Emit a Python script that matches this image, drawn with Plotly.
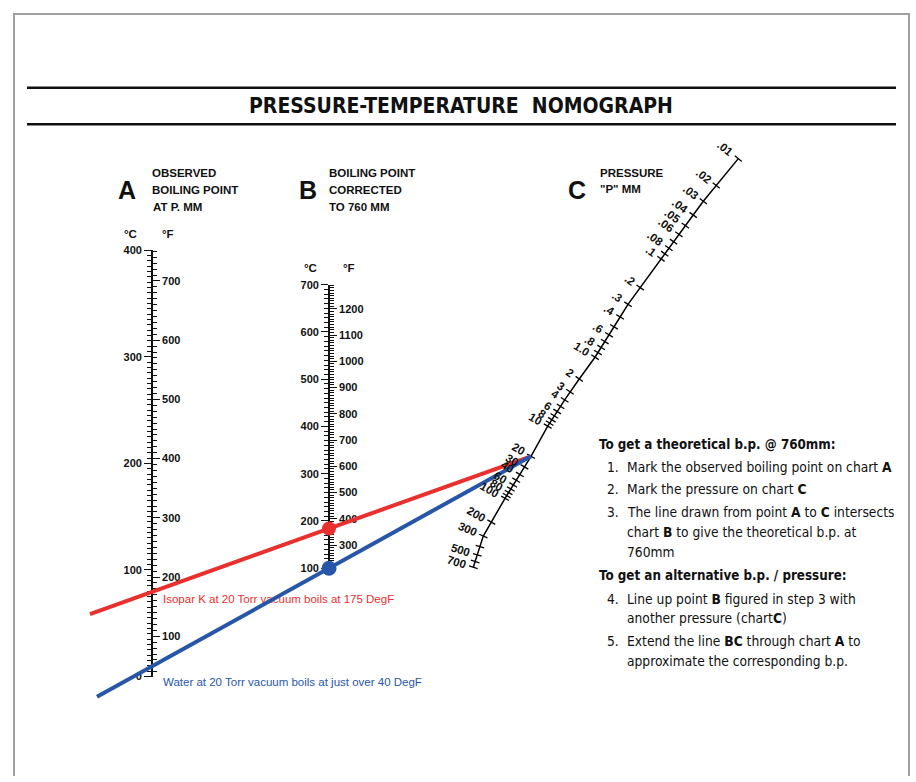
import numpy as np
import plotly.graph_objects as go

W, H = 916, 782

# ---------------- data ----------------
A_degC_ticks = [0, 100, 200, 300, 400]
A_degF_ticks = [100, 200, 300, 400, 500, 600, 700]
B_degC_ticks = [100, 200, 300, 400, 500, 600, 700]
B_degF_ticks = [300, 400, 500, 600, 700, 800, 900, 1000, 1100, 1200]
C_pressure_ticks = [0.01, 0.02, 0.03, 0.04, 0.05, 0.06, 0.07, 0.08, 0.09,
                    0.1, 0.2, 0.3, 0.4, 0.5, 0.6, 0.7, 0.8, 0.9,
                    1, 2, 3, 4, 5, 6, 7, 8, 9,
                    10, 20, 30, 40, 50, 60, 70, 80, 90,
                    100, 200, 300, 400, 500, 600, 700]
C_label_values = [0.01, 0.02, 0.03, 0.04, 0.05, 0.06, 0.08, 0.1, 0.2, 0.3, 0.4,
                  0.6, 0.8, 1, 2, 3, 4, 6, 8, 10, 20, 30, 40, 60, 80, 100,
                  200, 300, 500, 700]
C_label_texts = [".01", ".02", ".03", ".04", ".05", ".06", ".08", ".1", ".2", ".3",
                 ".4", ".6", ".8", "1.0", "2", "3", "4", "6", "8", "10", "20", "30",
                 "40", "60", "80", "100", "200", "300", "500", "700"]

isopar_observed_degF = 175      # on chart A
water_corrected_degC = 100      # on chart B
vacuum_torr = 20                # on chart C

instr_heading1 = "To get a theoretical b.p. @ 760mm:"
instr_heading2 = "To get an alternative b.p. / pressure:"
instr_items1 = [("1.", ["Mark the observed boiling point on chart <b>A</b>"]),
                ("2.", ["Mark the pressure on chart <b>C</b>"]),
                ("3.", ["The line drawn from point <b>A</b> to <b>C</b> intersects",
                        "chart <b>B</b> to give the theoretical b.p. at",
                        "760mm"])]
instr_items2 = [("4.", ["Line up point <b>B</b> figured in step 3 with",
                        "another pressure (chart<b>C</b>)"]),
                ("5.", ["Extend the line <b>BC</b> through chart <b>A</b> to",
                        "approximate the corresponding b.p."])]

# ---------------- geometry (layout) ----------------
A_X, A_TOP, A_BOT, A_RANGE = 152, 248, 681, (0, 400)
B_X, B_TOP, B_BOT, B_RANGE = 329, 283, 571, (100, 700)
# calibration of the curved pressure scale C (pixel positions of reference graduations)
C_CAL_P = [0.01, 0.03, 0.1, 0.3, 1, 3, 10, 20, 100, 300, 700]
C_CAL_X = [738.3, 703.3, 661.0, 628.0, 595.0, 570.0, 547.7, 531.0, 505.0, 483.3, 473.3]
C_CAL_Y = [155.0, 198.3, 256.7, 303.0, 356.7, 391.7, 426.7, 457.3, 500.0, 538.3, 570.0]
C_CAL_LOG = np.log10(C_CAL_P)

RED, BLUE = "#e8302f", "#2756a8"
BOLD = "Liberation Sans, Arial, sans-serif"
NARROW = "DejaVu Sans Condensed, Liberation Sans Narrow, sans-serif"


def f2c(f):
    return (f - 32) / 1.8


def c2f(c):
    return c * 1.8 + 32


def dom(top, bot):
    return [1 - bot / H, 1 - top / H]


def a_px(c):
    return A_BOT + (A_TOP - A_BOT) * (c - A_RANGE[0]) / (A_RANGE[1] - A_RANGE[0])


def b_px(c):
    return B_BOT + (B_TOP - B_BOT) * (c - B_RANGE[0]) / (B_RANGE[1] - B_RANGE[0])


def c_xy(p):
    lp = np.log10(p)
    return float(np.interp(lp, C_CAL_LOG, C_CAL_X)), float(np.interp(lp, C_CAL_LOG, C_CAL_Y))


def c_dir(p):
    x1, y1 = c_xy(p / 1.03)
    x2, y2 = c_xy(p * 1.03)
    d = np.array([x2 - x1, y2 - y1])
    return d / np.linalg.norm(d)


fig = go.Figure()

# dummy traces so the scale axes exist
for ya in ["y", "y2", "y3", "y4"]:
    fig.add_trace(go.Scatter(x=[None], y=[None], xaxis="x", yaxis=ya,
                             showlegend=False, hoverinfo="skip"))

PX = dict(xaxis="x", yaxis="y5", showlegend=False, hoverinfo="skip")

# ---- pressure scale C ----
cline = [c_xy(p) for p in C_pressure_ticks]
fig.add_trace(go.Scatter(x=[q[0] for q in cline], y=[q[1] for q in cline], mode="lines",
                         line=dict(color="black", width=1.5), **PX))
tx, ty = [], []
for p in C_pressure_ticks:
    x0, y0 = c_xy(p)
    d = c_dir(p)
    n = np.array([-d[1], d[0]])
    L = 4.5
    tx += [x0 - n[0] * L, x0 + n[0] * L, None]
    ty += [y0 - n[1] * L, y0 + n[1] * L, None]
fig.add_trace(go.Scatter(x=tx, y=ty, mode="lines", line=dict(color="black", width=1.3), **PX))

annotations = []
CS = 11.5
CW = {".": 0.28 * CS}
for p, t in zip(C_label_values, C_label_texts):
    x0, y0 = c_xy(p)
    d = c_dir(p)
    n = np.array([-d[1], d[0]])          # towards upper-left
    ang = float(np.degrees(np.arctan2(-d[0], d[1])))
    wdt = sum(CW.get(ch, 0.556 * CS) for ch in t)
    off = 8 + wdt / 2
    annotations.append(dict(x=x0 + n[0] * off, y=y0 + n[1] * off, xref="x", yref="y5",
                            text=t, showarrow=False, textangle=ang,
                            xanchor="center", yanchor="middle",
                            font=dict(family=BOLD, size=CS, color="#111", weight="bold")))

# ---- example texts (under lines) ----
fig.add_trace(go.Scatter(x=[163], y=[603], mode="text",
                         text=["Isopar K at 20 Torr vacuum boils at 175 DegF"],
                         textposition="middle right",
                         textfont=dict(family="Liberation Sans, Arial", size=11.5, color=RED), **PX))
fig.add_trace(go.Scatter(x=[163], y=[688], mode="text",
                         text=["Water at 20 Torr vacuum boils at just over 40 DegF"],
                         textposition="middle right",
                         textfont=dict(family="Liberation Sans, Arial", size=11.5, color=BLUE), **PX))

# ---- red line: A (observed) -> C (pressure), crossing B ----
pa = (A_X, a_px(f2c(isopar_observed_degF)))
pc = c_xy(vacuum_torr)
slope_r = (pc[1] - pa[1]) / (pc[0] - pa[0])
red_left_x = 90
red_x = [red_left_x, pc[0]]
red_y = [pa[1] + slope_r * (red_left_x - pa[0]), pc[1]]
red_b_y = pa[1] + slope_r * (B_X - pa[0])
fig.add_trace(go.Scatter(x=red_x, y=red_y, mode="lines", line=dict(color=RED, width=4), **PX))

# ---- blue line: B (corrected) -> C (pressure), extended through A ----
pb = (B_X, b_px(water_corrected_degC))
slope_b = (pc[1] - pb[1]) / (pc[0] - pb[0])
blue_left_x = 97
blue_x = [blue_left_x, pc[0]]
blue_y = [pb[1] + slope_b * (blue_left_x - pb[0]), pc[1]]
fig.add_trace(go.Scatter(x=blue_x, y=blue_y, mode="lines", line=dict(color=BLUE, width=4), **PX))

fig.add_trace(go.Scatter(x=[B_X], y=[red_b_y], mode="markers",
                         marker=dict(color=RED, size=14), **PX))
fig.add_trace(go.Scatter(x=[B_X], y=[pb[1]], mode="markers",
                         marker=dict(color=BLUE, size=15), **PX))

# ---- header texts ----
def txt(x, y, s, size=11.5, family=BOLD, weight="bold", xanchor="left", color="#111"):
    annotations.append(dict(x=x, y=y, xref="x", yref="y5", text=s, showarrow=False,
                            xanchor=xanchor, yanchor="middle",
                            font=dict(family=family, size=size, color=color, weight=weight)))

txt(461, 102, "PRESSURE-TEMPERATURE  NOMOGRAPH", size=21, family=NARROW, xanchor="center")
txt(116, 187, "A", size=25)
txt(150, 170, "OBSERVED")
txt(150, 187, "BOILING POINT")
txt(151, 204, "AT P. MM")
txt(297, 187, "B", size=25)
txt(327, 170, "BOILING POINT")
txt(327, 187, "CORRECTED")
txt(327, 204, "TO 760 MM")
txt(566, 187, "C", size=25)
txt(598, 170, "PRESSURE")
txt(598, 186, "\"P\" MM")
txt(122, 232, "°C")
txt(160, 232, "°F")
txt(302, 266, "°C")
txt(341, 266, "°F")

# ---- instructions ----
HS, IS = 13.3, 13.7
txt(597, 445, instr_heading1, size=HS, family=NARROW)
yy = 468
for num, lines in instr_items1:
    txt(605, yy, num, size=IS, family=NARROW, weight="normal")
    for ln in lines:
        txt(625, yy, ln, size=IS, family=NARROW, weight="normal")
        yy += 20
    yy += 3
txt(597, 578, instr_heading2, size=HS, family=NARROW)
yy = 602
for num, lines in instr_items2:
    txt(605, yy, num, size=IS, family=NARROW, weight="normal")
    for ln in lines:
        txt(625, yy, ln, size=IS, family=NARROW, weight="normal")
        yy += 20
    yy += 3

shapes = [
    dict(type="rect", xref="x", yref="y5", x0=14, y0=8, x1=909, y1=800,
         line=dict(color="#a0a0a0", width=2), layer="below"),
    dict(type="line", xref="x", yref="y5", x0=27, y0=83, x1=896, y1=83,
         line=dict(color="#111", width=2.5)),
    dict(type="line", xref="x", yref="y5", x0=27, y0=120, x1=896, y1=120,
         line=dict(color="#111", width=2.5)),
]

tickfont = dict(family=BOLD, size=11, color="#111", weight="bold")


def scale_axis(rng, top, bot, xpos, side, major, minor_dt, overlay=None):
    ax = dict(range=list(rng), domain=dom(top, bot), anchor="free", position=xpos / W,
              side=side, showgrid=False, zeroline=False, showline=True,
              linecolor="#111", linewidth=1.8, ticks="outside", ticklen=7,
              tickwidth=1.3, tickcolor="#111", tickvals=major, tickfont=tickfont,
              minor=dict(dtick=minor_dt, tick0=0, ticks="outside", ticklen=4.5,
                         tickwidth=1.1, tickcolor="#111", showgrid=False),
              fixedrange=True, layer="below traces")
    if overlay:
        ax["overlaying"] = overlay
    return ax


fig.update_layout(
    width=W, height=H, margin=dict(l=0, r=0, t=0, b=0),
    paper_bgcolor="white", plot_bgcolor="rgba(0,0,0,0)", showlegend=False,
    xaxis=dict(range=[0, W], domain=[0, 1], visible=False, anchor="y5", fixedrange=True),
    yaxis=scale_axis(A_RANGE, A_TOP, A_BOT, A_X, "left", A_degC_ticks, 5),
    yaxis2=scale_axis((c2f(A_RANGE[0]), c2f(A_RANGE[1])), A_TOP, A_BOT, A_X, "right",
                      A_degF_ticks, 10, overlay="y"),
    yaxis3=scale_axis(B_RANGE, B_TOP, B_BOT, B_X, "left", B_degC_ticks, 10),
    yaxis4=scale_axis((c2f(B_RANGE[0]), c2f(B_RANGE[1])), B_TOP, B_BOT, B_X, "right",
                      B_degF_ticks, 10, overlay="y3"),
    yaxis5=dict(range=[H, 0], domain=[0, 1], visible=False, anchor="x", fixedrange=True),
    annotations=annotations, shapes=shapes,
)

fig.write_html("out.html", config={"displayModeBar": False},
               post_script="document.body.style.margin='0px';"
                           "document.body.style.overflow='hidden';")
